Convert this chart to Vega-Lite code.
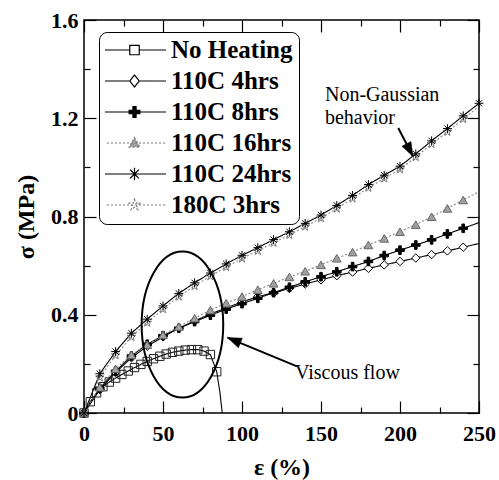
{
  "$schema": "https://vega.github.io/schema/vega-lite/v6.json",
  "autosize": "none",
  "padding": {"left": 84, "top": 20, "right": 20, "bottom": 67},
  "width": 395,
  "height": 393,
  "config": {
    "view": {"stroke": "black", "strokeWidth": 1.5},
    "axis": {"tickColor": "black", "tickWidth": 1.2, "domain": false, "grid": false, "labelFlush": false, "labelOverlap": false}
  },
  "datasets": {
    "curves": [
      {"series": "No Heating", "strain": 0, "stress": 0, "marker": true},
      {"series": "No Heating", "strain": 4, "stress": 0.046, "marker": true},
      {"series": "No Heating", "strain": 8, "stress": 0.082, "marker": true},
      {"series": "No Heating", "strain": 12, "stress": 0.107, "marker": true},
      {"series": "No Heating", "strain": 16, "stress": 0.126, "marker": true},
      {"series": "No Heating", "strain": 20, "stress": 0.142, "marker": true},
      {"series": "No Heating", "strain": 24, "stress": 0.157, "marker": true},
      {"series": "No Heating", "strain": 28, "stress": 0.171, "marker": true},
      {"series": "No Heating", "strain": 32, "stress": 0.185, "marker": true},
      {"series": "No Heating", "strain": 36, "stress": 0.198, "marker": true},
      {"series": "No Heating", "strain": 40, "stress": 0.21, "marker": true},
      {"series": "No Heating", "strain": 44, "stress": 0.221, "marker": true},
      {"series": "No Heating", "strain": 48, "stress": 0.231, "marker": true},
      {"series": "No Heating", "strain": 52, "stress": 0.24, "marker": true},
      {"series": "No Heating", "strain": 56, "stress": 0.247, "marker": true},
      {"series": "No Heating", "strain": 60, "stress": 0.252, "marker": true},
      {"series": "No Heating", "strain": 64, "stress": 0.256, "marker": true},
      {"series": "No Heating", "strain": 68, "stress": 0.258, "marker": true},
      {"series": "No Heating", "strain": 72, "stress": 0.258, "marker": true},
      {"series": "No Heating", "strain": 76, "stress": 0.252, "marker": true},
      {"series": "No Heating", "strain": 80, "stress": 0.238, "marker": true},
      {"series": "No Heating", "strain": 84, "stress": 0.168, "marker": true},
      {"series": "No Heating", "strain": 86, "stress": 0.085, "marker": false},
      {"series": "No Heating", "strain": 87.5, "stress": 0, "marker": false},

      {"series": "110C 4hrs", "strain": 0, "stress": 0, "marker": true},
      {"series": "110C 4hrs", "strain": 10, "stress": 0.095, "marker": true},
      {"series": "110C 4hrs", "strain": 20, "stress": 0.165, "marker": true},
      {"series": "110C 4hrs", "strain": 30, "stress": 0.225, "marker": true},
      {"series": "110C 4hrs", "strain": 40, "stress": 0.272, "marker": true},
      {"series": "110C 4hrs", "strain": 50, "stress": 0.31, "marker": true},
      {"series": "110C 4hrs", "strain": 60, "stress": 0.345, "marker": true},
      {"series": "110C 4hrs", "strain": 70, "stress": 0.375, "marker": true},
      {"series": "110C 4hrs", "strain": 80, "stress": 0.403, "marker": true},
      {"series": "110C 4hrs", "strain": 90, "stress": 0.428, "marker": true},
      {"series": "110C 4hrs", "strain": 100, "stress": 0.452, "marker": true},
      {"series": "110C 4hrs", "strain": 110, "stress": 0.474, "marker": true},
      {"series": "110C 4hrs", "strain": 120, "stress": 0.489, "marker": true},
      {"series": "110C 4hrs", "strain": 130, "stress": 0.507, "marker": true},
      {"series": "110C 4hrs", "strain": 140, "stress": 0.525, "marker": true},
      {"series": "110C 4hrs", "strain": 150, "stress": 0.542, "marker": true},
      {"series": "110C 4hrs", "strain": 160, "stress": 0.559, "marker": true},
      {"series": "110C 4hrs", "strain": 170, "stress": 0.574, "marker": true},
      {"series": "110C 4hrs", "strain": 180, "stress": 0.589, "marker": true},
      {"series": "110C 4hrs", "strain": 190, "stress": 0.603, "marker": true},
      {"series": "110C 4hrs", "strain": 200, "stress": 0.617, "marker": true},
      {"series": "110C 4hrs", "strain": 210, "stress": 0.631, "marker": true},
      {"series": "110C 4hrs", "strain": 220, "stress": 0.645, "marker": true},
      {"series": "110C 4hrs", "strain": 230, "stress": 0.66, "marker": true},
      {"series": "110C 4hrs", "strain": 240, "stress": 0.675, "marker": true},
      {"series": "110C 4hrs", "strain": 250, "stress": 0.69, "marker": false},

      {"series": "110C 8hrs", "strain": 0, "stress": 0, "marker": true},
      {"series": "110C 8hrs", "strain": 10, "stress": 0.1, "marker": true},
      {"series": "110C 8hrs", "strain": 20, "stress": 0.17, "marker": true},
      {"series": "110C 8hrs", "strain": 30, "stress": 0.232, "marker": true},
      {"series": "110C 8hrs", "strain": 40, "stress": 0.28, "marker": true},
      {"series": "110C 8hrs", "strain": 50, "stress": 0.315, "marker": true},
      {"series": "110C 8hrs", "strain": 60, "stress": 0.345, "marker": true},
      {"series": "110C 8hrs", "strain": 70, "stress": 0.372, "marker": true},
      {"series": "110C 8hrs", "strain": 80, "stress": 0.398, "marker": true},
      {"series": "110C 8hrs", "strain": 90, "stress": 0.423, "marker": true},
      {"series": "110C 8hrs", "strain": 100, "stress": 0.445, "marker": true},
      {"series": "110C 8hrs", "strain": 110, "stress": 0.467, "marker": true},
      {"series": "110C 8hrs", "strain": 120, "stress": 0.49, "marker": true},
      {"series": "110C 8hrs", "strain": 130, "stress": 0.512, "marker": true},
      {"series": "110C 8hrs", "strain": 140, "stress": 0.534, "marker": true},
      {"series": "110C 8hrs", "strain": 150, "stress": 0.555, "marker": true},
      {"series": "110C 8hrs", "strain": 160, "stress": 0.575, "marker": true},
      {"series": "110C 8hrs", "strain": 170, "stress": 0.596, "marker": true},
      {"series": "110C 8hrs", "strain": 180, "stress": 0.617, "marker": true},
      {"series": "110C 8hrs", "strain": 190, "stress": 0.641, "marker": true},
      {"series": "110C 8hrs", "strain": 200, "stress": 0.663, "marker": true},
      {"series": "110C 8hrs", "strain": 210, "stress": 0.684, "marker": true},
      {"series": "110C 8hrs", "strain": 220, "stress": 0.705, "marker": true},
      {"series": "110C 8hrs", "strain": 230, "stress": 0.729, "marker": true},
      {"series": "110C 8hrs", "strain": 240, "stress": 0.752, "marker": true},
      {"series": "110C 8hrs", "strain": 250, "stress": 0.775, "marker": false},

      {"series": "110C 16hrs", "strain": 0, "stress": 0, "marker": true},
      {"series": "110C 16hrs", "strain": 10, "stress": 0.105, "marker": true},
      {"series": "110C 16hrs", "strain": 20, "stress": 0.18, "marker": true},
      {"series": "110C 16hrs", "strain": 30, "stress": 0.237, "marker": true},
      {"series": "110C 16hrs", "strain": 40, "stress": 0.278, "marker": true},
      {"series": "110C 16hrs", "strain": 50, "stress": 0.318, "marker": true},
      {"series": "110C 16hrs", "strain": 60, "stress": 0.352, "marker": true},
      {"series": "110C 16hrs", "strain": 70, "stress": 0.386, "marker": true},
      {"series": "110C 16hrs", "strain": 80, "stress": 0.419, "marker": true},
      {"series": "110C 16hrs", "strain": 90, "stress": 0.447, "marker": true},
      {"series": "110C 16hrs", "strain": 100, "stress": 0.474, "marker": true},
      {"series": "110C 16hrs", "strain": 110, "stress": 0.502, "marker": true},
      {"series": "110C 16hrs", "strain": 120, "stress": 0.528, "marker": true},
      {"series": "110C 16hrs", "strain": 130, "stress": 0.554, "marker": true},
      {"series": "110C 16hrs", "strain": 140, "stress": 0.577, "marker": true},
      {"series": "110C 16hrs", "strain": 150, "stress": 0.603, "marker": true},
      {"series": "110C 16hrs", "strain": 160, "stress": 0.63, "marker": true},
      {"series": "110C 16hrs", "strain": 170, "stress": 0.655, "marker": true},
      {"series": "110C 16hrs", "strain": 180, "stress": 0.684, "marker": true},
      {"series": "110C 16hrs", "strain": 190, "stress": 0.711, "marker": true},
      {"series": "110C 16hrs", "strain": 200, "stress": 0.738, "marker": true},
      {"series": "110C 16hrs", "strain": 210, "stress": 0.767, "marker": true},
      {"series": "110C 16hrs", "strain": 220, "stress": 0.799, "marker": true},
      {"series": "110C 16hrs", "strain": 230, "stress": 0.833, "marker": true},
      {"series": "110C 16hrs", "strain": 240, "stress": 0.867, "marker": true},
      {"series": "110C 16hrs", "strain": 250, "stress": 0.901, "marker": false},

      {"series": "180C 3hrs", "strain": 0, "stress": 0, "marker": true},
      {"series": "180C 3hrs", "strain": 10, "stress": 0.145, "marker": true},
      {"series": "180C 3hrs", "strain": 20, "stress": 0.235, "marker": true},
      {"series": "180C 3hrs", "strain": 30, "stress": 0.31, "marker": true},
      {"series": "180C 3hrs", "strain": 40, "stress": 0.368, "marker": true},
      {"series": "180C 3hrs", "strain": 50, "stress": 0.423, "marker": true},
      {"series": "180C 3hrs", "strain": 60, "stress": 0.474, "marker": true},
      {"series": "180C 3hrs", "strain": 70, "stress": 0.517, "marker": true},
      {"series": "180C 3hrs", "strain": 80, "stress": 0.557, "marker": true},
      {"series": "180C 3hrs", "strain": 90, "stress": 0.594, "marker": true},
      {"series": "180C 3hrs", "strain": 100, "stress": 0.629, "marker": true},
      {"series": "180C 3hrs", "strain": 110, "stress": 0.66, "marker": true},
      {"series": "180C 3hrs", "strain": 120, "stress": 0.693, "marker": true},
      {"series": "180C 3hrs", "strain": 130, "stress": 0.725, "marker": true},
      {"series": "180C 3hrs", "strain": 140, "stress": 0.759, "marker": true},
      {"series": "180C 3hrs", "strain": 150, "stress": 0.793, "marker": true},
      {"series": "180C 3hrs", "strain": 160, "stress": 0.832, "marker": true},
      {"series": "180C 3hrs", "strain": 170, "stress": 0.873, "marker": true},
      {"series": "180C 3hrs", "strain": 180, "stress": 0.917, "marker": true},
      {"series": "180C 3hrs", "strain": 190, "stress": 0.955, "marker": true},
      {"series": "180C 3hrs", "strain": 200, "stress": 0.992, "marker": true},
      {"series": "180C 3hrs", "strain": 210, "stress": 1.042, "marker": true},
      {"series": "180C 3hrs", "strain": 220, "stress": 1.095, "marker": true},
      {"series": "180C 3hrs", "strain": 230, "stress": 1.145, "marker": true},
      {"series": "180C 3hrs", "strain": 240, "stress": 1.197, "marker": true},
      {"series": "180C 3hrs", "strain": 250, "stress": 1.248, "marker": false},

      {"series": "110C 24hrs", "strain": 0, "stress": 0, "marker": true},
      {"series": "110C 24hrs", "strain": 10, "stress": 0.16, "marker": true},
      {"series": "110C 24hrs", "strain": 20, "stress": 0.25, "marker": true},
      {"series": "110C 24hrs", "strain": 30, "stress": 0.325, "marker": true},
      {"series": "110C 24hrs", "strain": 40, "stress": 0.382, "marker": true},
      {"series": "110C 24hrs", "strain": 50, "stress": 0.436, "marker": true},
      {"series": "110C 24hrs", "strain": 60, "stress": 0.487, "marker": true},
      {"series": "110C 24hrs", "strain": 70, "stress": 0.53, "marker": true},
      {"series": "110C 24hrs", "strain": 80, "stress": 0.57, "marker": true},
      {"series": "110C 24hrs", "strain": 90, "stress": 0.607, "marker": true},
      {"series": "110C 24hrs", "strain": 100, "stress": 0.642, "marker": true},
      {"series": "110C 24hrs", "strain": 110, "stress": 0.673, "marker": true},
      {"series": "110C 24hrs", "strain": 120, "stress": 0.706, "marker": true},
      {"series": "110C 24hrs", "strain": 130, "stress": 0.738, "marker": true},
      {"series": "110C 24hrs", "strain": 140, "stress": 0.772, "marker": true},
      {"series": "110C 24hrs", "strain": 150, "stress": 0.806, "marker": true},
      {"series": "110C 24hrs", "strain": 160, "stress": 0.845, "marker": true},
      {"series": "110C 24hrs", "strain": 170, "stress": 0.886, "marker": true},
      {"series": "110C 24hrs", "strain": 180, "stress": 0.93, "marker": true},
      {"series": "110C 24hrs", "strain": 190, "stress": 0.968, "marker": true},
      {"series": "110C 24hrs", "strain": 200, "stress": 1.005, "marker": true},
      {"series": "110C 24hrs", "strain": 210, "stress": 1.055, "marker": true},
      {"series": "110C 24hrs", "strain": 220, "stress": 1.108, "marker": true},
      {"series": "110C 24hrs", "strain": 230, "stress": 1.158, "marker": true},
      {"series": "110C 24hrs", "strain": 240, "stress": 1.21, "marker": true},
      {"series": "110C 24hrs", "strain": 250, "stress": 1.261, "marker": true}
    ],
    "arrows": [
      {"note": "Viscous flow", "strain": 134.8, "stress": 0.19, "tipStrain": 90.8, "tipStress": 0.307},
      {"note": "Non-Gaussian behavior", "strain": 198.9, "stress": 1.16, "tipStrain": 208.2, "tipStress": 1.045}
    ],
    "notes": [
      {"text": "Non-Gaussian\nbehavior", "strain": 152.5, "stress": 1.272},
      {"text": "Viscous flow", "strain": 133.5, "stress": 0.138}
    ],
    "region": [
      {"strain": 62.3, "stress": 0.36}
    ]
  },
  "layer": [
    {
      "data": {"name": "curves"},
      "mark": {"type": "line", "strokeWidth": 1.1},
      "encoding": {
        "x": {"field": "strain", "type": "quantitative", "scale": {"domain": [0, 250], "nice": false},
          "axis": {"orient": "bottom", "title": "ε (%)", "values": [0, 25, 50, 75, 100, 125, 150, 175, 200, 225, 250],
            "labelFont": "Liberation Serif", "labelFontWeight": 700, "labelFontSize": 22, "labelColor": "black",
            "titleFont": "Liberation Serif", "titleFontWeight": 700, "titleFontSize": 24, "titleColor": "black",
            "tickSize": {"condition": {"test": "datum.value % 50 === 0", "value": -12}, "value": -6},
            "labelExpr": "datum.value % 50 === 0 ? datum.label : ''", "labelPadding": 22,
            "titleX": 197.5, "titleY": 54, "titleBaseline": "middle", "titleAlign": "center"}},
        "y": {"field": "stress", "type": "quantitative", "scale": {"domain": [0, 1.6], "nice": false},
          "axis": {"orient": "left", "title": "σ (MPa)", "values": [0, 0.2, 0.4, 0.6, 0.8, 1.0, 1.2, 1.4, 1.6],
            "labelFont": "Liberation Serif", "labelFontWeight": 700, "labelFontSize": 22, "labelColor": "black",
            "titleFont": "Liberation Serif", "titleFontWeight": 700, "titleFontSize": 24, "titleColor": "black",
            "tickSize": {"condition": {"test": "round(datum.value*10) % 4 === 0", "value": -12}, "value": -6},
            "labelExpr": "round(datum.value*10) % 4 === 0 ? (datum.value === 0 ? '0' : format(datum.value, '.1f')) : ''",
            "labelPadding": 18, "titleX": -58, "titleY": 196.5, "titleBaseline": "middle", "titleAlign": "center", "titleAngle": -90}},
        "stroke": {"field": "series", "type": "nominal", "legend": null,
          "scale": {"domain": ["No Heating", "110C 4hrs", "110C 8hrs", "110C 16hrs", "110C 24hrs", "180C 3hrs"],
            "range": ["black", "black", "black", "#888888", "black", "#888888"]}},
        "strokeDash": {"field": "series", "type": "nominal", "legend": null,
          "scale": {"domain": ["No Heating", "110C 4hrs", "110C 8hrs", "110C 16hrs", "110C 24hrs", "180C 3hrs"],
            "range": [[1, 0], [1, 0], [1, 0], [2, 2], [1, 0], [2, 2]]}}
      }
    },
    {
      "data": {"name": "curves"},
      "transform": [{"filter": "datum.marker"}],
      "mark": {"type": "point", "filled": true, "opacity": 1, "strokeWidth": 1},
      "encoding": {
        "x": {"field": "strain", "type": "quantitative",
          "axis": {"orient": "top", "title": null, "labels": false, "values": [0, 25, 50, 75, 100, 125, 150, 175, 200, 225, 250],
            "tickSize": {"condition": {"test": "datum.value % 50 === 0", "value": -12}, "value": -6}}},
        "y": {"field": "stress", "type": "quantitative",
          "axis": {"orient": "right", "title": null, "labels": false, "values": [0, 0.2, 0.4, 0.6, 0.8, 1.0, 1.2, 1.4, 1.6],
            "tickSize": {"condition": {"test": "round(datum.value*10) % 4 === 0", "value": -12}, "value": -6}}},
        "shape": {"field": "series", "type": "nominal", "legend": null,
          "scale": {"domain": ["No Heating", "110C 4hrs", "110C 8hrs", "110C 16hrs", "110C 24hrs", "180C 3hrs"],
            "range": ["square", "diamond",
              "M-1,-0.3H-0.3V-1H0.3V-0.3H1V0.3H0.3V1H-0.3V0.3H-1Z",
              "triangle-up",
              "M-1,0H1M0,-1V1M-0.7,-0.7L0.7,0.7M-0.7,0.7L0.7,-0.7",
              "M0,-1L0.235,-0.324L0.951,-0.309L0.38,0.124L0.588,0.809L0,0.4L-0.588,0.809L-0.38,0.124L-0.951,-0.309L-0.235,-0.324Z"]}},
        "size": {"field": "series", "type": "nominal", "legend": null,
          "scale": {"domain": ["No Heating", "110C 4hrs", "110C 8hrs", "110C 16hrs", "110C 24hrs", "180C 3hrs"],
            "range": [70, 80, 110, 110, 190, 110]}},
        "fill": {"field": "series", "type": "nominal", "legend": null,
          "scale": {"domain": ["No Heating", "110C 4hrs", "110C 8hrs", "110C 16hrs", "110C 24hrs", "180C 3hrs"],
            "range": ["transparent", "white", "black", "#a0a0a0", "transparent", "transparent"]}},
        "stroke": {"field": "series", "type": "nominal", "legend": null,
          "scale": {"domain": ["No Heating", "110C 4hrs", "110C 8hrs", "110C 16hrs", "110C 24hrs", "180C 3hrs"],
            "range": ["#222222", "black", "black", "#666666", "black", "#777777"]}}
      }
    },
    {
      "data": {"name": "curves"},
      "transform": [{"filter": "false"}],
      "mark": {"type": "point", "filled": true, "opacity": 1, "strokeWidth": 1.2},
      "encoding": {
        "shape": {"field": "series", "type": "nominal",
          "scale": {"domain": ["No Heating", "110C 4hrs", "110C 8hrs", "110C 16hrs", "110C 24hrs", "180C 3hrs"],
            "range": [
              "M-1,0H-0.15M0.15,0H1M-0.15,-0.15H0.15V0.15H-0.15Z",
              "M-1,0H-0.15M0.15,0H1M0,-0.19L0.15,0L0,0.19L-0.15,0Z",
              "M-1,0H1M-0.17,-0.05H-0.05V-0.17H0.05V-0.05H0.17V0.05H0.05V0.17H-0.05V0.05H-0.17Z",
              "M-1,0H1M0,-0.17L0.17,0.13H-0.17Z",
              "M-1,0H1M0,-0.2V0.2M-0.14,-0.14L0.14,0.14M-0.14,0.14L0.14,-0.14",
              "M-1,0H1M0,-0.18L0.042,-0.058L0.171,-0.056L0.068,0.022L0.106,0.146L0,0.072L-0.106,0.146L-0.068,0.022L-0.171,-0.056L-0.042,-0.058Z"]},
          "legend": {"title": null, "orient": "none", "legendX": 15, "legendY": 12, "direction": "vertical",
            "symbolSize": 3969, "symbolStrokeWidth": 1.2, "labelFont": "Liberation Serif", "labelFontWeight": 700,
            "labelFontSize": 25, "labelColor": "black", "strokeColor": "black", "fillColor": "white", "cornerRadius": 8,
            "padding": 6, "rowPadding": 6, "clipHeight": 24, "symbolOffset": -3, "labelOffset": 4}},
        "fill": {"field": "series", "type": "nominal",
          "scale": {"domain": ["No Heating", "110C 4hrs", "110C 8hrs", "110C 16hrs", "110C 24hrs", "180C 3hrs"],
            "range": ["white", "white", "black", "#a0a0a0", "transparent", "white"]},
          "legend": {"title": null, "orient": "none", "legendX": 15, "legendY": 12, "direction": "vertical",
            "symbolSize": 3969, "symbolStrokeWidth": 1.2, "labelFont": "Liberation Serif", "labelFontWeight": 700,
            "labelFontSize": 25, "labelColor": "black", "strokeColor": "black", "fillColor": "white", "cornerRadius": 8,
            "padding": 6, "rowPadding": 6, "clipHeight": 24, "symbolOffset": -3, "labelOffset": 4}},
        "stroke": {"field": "series", "type": "nominal",
          "scale": {"domain": ["No Heating", "110C 4hrs", "110C 8hrs", "110C 16hrs", "110C 24hrs", "180C 3hrs"],
            "range": ["black", "black", "black", "#777777", "black", "#777777"]},
          "legend": {"title": null, "orient": "none", "legendX": 15, "legendY": 12, "direction": "vertical",
            "symbolSize": 3969, "symbolStrokeWidth": 1.2, "labelFont": "Liberation Serif", "labelFontWeight": 700,
            "labelFontSize": 25, "labelColor": "black", "strokeColor": "black", "fillColor": "white", "cornerRadius": 8,
            "padding": 6, "rowPadding": 6, "clipHeight": 24, "symbolOffset": -3, "labelOffset": 4}},
        "strokeDash": {"field": "series", "type": "nominal",
          "scale": {"domain": ["No Heating", "110C 4hrs", "110C 8hrs", "110C 16hrs", "110C 24hrs", "180C 3hrs"],
            "range": [[1, 0], [1, 0], [1, 0], [2, 2], [1, 0], [2, 2]]},
          "legend": {"title": null, "orient": "none", "legendX": 15, "legendY": 12, "direction": "vertical",
            "symbolSize": 3969, "symbolStrokeWidth": 1.2, "labelFont": "Liberation Serif", "labelFontWeight": 700,
            "labelFontSize": 25, "labelColor": "black", "strokeColor": "black", "fillColor": "white", "cornerRadius": 8,
            "padding": 6, "rowPadding": 6, "clipHeight": 24, "symbolOffset": -3, "labelOffset": 4}}
      }
    },
    {
      "data": {"name": "region"},
      "mark": {"type": "point", "filled": false, "opacity": 1, "stroke": "black", "strokeWidth": 2, "size": 21316,
        "shape": "M-0.559,0A0.559,1 0 1,0 0.559,0A0.559,1 0 1,0 -0.559,0Z"},
      "encoding": {
        "x": {"field": "strain", "type": "quantitative", "axis": null},
        "y": {"field": "stress", "type": "quantitative", "axis": null}
      }
    },
    {
      "data": {"name": "arrows"},
      "mark": {"type": "rule", "stroke": "black", "strokeWidth": 2},
      "encoding": {
        "x": {"field": "strain", "type": "quantitative", "axis": null},
        "y": {"field": "stress", "type": "quantitative", "axis": null},
        "x2": {"field": "tipStrain"},
        "y2": {"field": "tipStress"}
      }
    },
    {
      "data": {"name": "arrows"},
      "transform": [{"filter": "datum.note === 'Viscous flow'"}],
      "mark": {"type": "point", "filled": true, "opacity": 1, "fill": "black", "stroke": "black", "strokeWidth": 0.5,
        "size": 645, "angle": 292.5, "shape": "M0,0L-0.4,1.1L0.4,1.1Z"},
      "encoding": {
        "x": {"field": "tipStrain", "type": "quantitative", "axis": null},
        "y": {"field": "tipStress", "type": "quantitative", "axis": null}
      }
    },
    {
      "data": {"name": "arrows"},
      "transform": [{"filter": "datum.note === 'Non-Gaussian behavior'"}],
      "mark": {"type": "point", "filled": true, "opacity": 1, "fill": "black", "stroke": "black", "strokeWidth": 0.5,
        "size": 645, "angle": 152.2, "shape": "M0,0L-0.4,1.1L0.4,1.1Z"},
      "encoding": {
        "x": {"field": "tipStrain", "type": "quantitative", "axis": null},
        "y": {"field": "tipStress", "type": "quantitative", "axis": null}
      }
    },
    {
      "data": {"name": "notes"},
      "mark": {"type": "text", "font": "Liberation Serif", "fontSize": 20, "align": "left", "baseline": "alphabetic",
        "lineBreak": "\n", "lineHeight": 23, "color": "black"},
      "encoding": {
        "x": {"field": "strain", "type": "quantitative", "axis": null},
        "y": {"field": "stress", "type": "quantitative", "axis": null},
        "text": {"field": "text"}
      }
    }
  ],
  "resolve": {
    "scale": {"shape": "independent", "fill": "independent", "stroke": "independent", "strokeDash": "independent", "size": "independent"},
    "legend": {"shape": "independent", "fill": "independent", "stroke": "independent", "strokeDash": "independent", "size": "independent"},
    "axis": {"x": "independent", "y": "independent"}
  }
}
